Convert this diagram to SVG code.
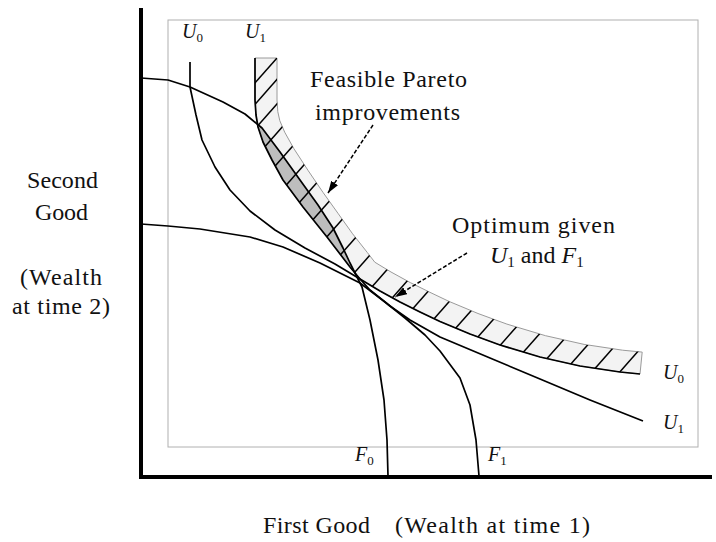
<svg xmlns="http://www.w3.org/2000/svg" width="716" height="542" viewBox="0 0 716 542">
<style>
.txt{font-family:"Liberation Serif","Times New Roman",serif;font-size:24px;fill:#111}
.lab{font-family:"Liberation Serif","Times New Roman",serif;font-size:20px;fill:#111}
.it{font-style:italic}
.curve{fill:none;stroke:#000;stroke-width:1.7;stroke-linejoin:round}
.hatch{stroke:#000;stroke-width:1.5}
.dash{fill:none;stroke:#000;stroke-width:1.5;stroke-dasharray:4 2}
</style>
<defs>
<marker id="ah" viewBox="0 0 12 8" refX="12" refY="4" markerWidth="12" markerHeight="8" markerUnits="userSpaceOnUse" orient="auto">
<path d="M0,0 L12,4 L0,8 Z" fill="#000"/>
</marker>
<path id="bandshape" d="M255,58 L255,100 L256,115 L258,127 L263,142 L272,160 L283,180 L303,207 L327,237 L350,267 L360,279 L380,291 L400,302 L420,312 L440,321.5 L470,334 L500,345 L540,357 L580,366 L620,372 L640,374 L642.2,352.1 L622.6,350.2 L584.1,344.4 L545.5,335.7 L506.9,324.1 L478,313.5 L449,301.4 L429.7,292.2 L410.3,282.6 L391,272 L374.8,262.2 L367.4,252.6 L352.6,233.8 L337.9,213.2 L323,192.4 L308.3,170.8 L293.9,148.7 L284.7,132.2 L279.8,120.7 L277.8,111.7 L277,100 L277,58 Z"/>
<clipPath id="bandclip">
<use href="#bandshape"/>
</clipPath>
</defs>
<rect width="716" height="542" fill="#fff"/>
<g id="frame">
<rect x="168" y="20" width="530" height="427" fill="none" stroke="#b0b0b0" stroke-width="1"/>
</g>
<g id="band">
<use href="#bandshape" fill="#f3f3f3" stroke="#9a9a9a" stroke-width="1"/>
<path id="pareto" d="M258,124 L262,128 L280,152 L300,180 L318,205 L333,228 L343,248 L351,268 L327,237 L303,207 L283,180 L272,160 L263,142 L258,127 Z" fill="#bdbdbd"/>
<g clip-path="url(#bandclip)" class="hatch">
<line x1="249.7" y1="89" x2="284.7" y2="49.3"/>
<line x1="250" y1="110.1" x2="285" y2="70.3"/>
<line x1="253" y1="131.1" x2="288" y2="91.4"/>
<line x1="261.3" y1="150.8" x2="296.3" y2="111.1"/>
<line x1="272" y1="169.6" x2="307" y2="129.9"/>
<line x1="283.9" y1="187.8" x2="318.9" y2="148.1"/>
<line x1="296.3" y1="206" x2="331.3" y2="166.3"/>
<line x1="309.1" y1="224.1" x2="344.1" y2="184.4"/>
<line x1="322.1" y1="242.3" x2="357.1" y2="202.6"/>
<line x1="335.5" y1="260.4" x2="370.5" y2="220.7"/>
<line x1="349.5" y1="278.3" x2="384.5" y2="238.6"/>
<line x1="367" y1="292.4" x2="402" y2="252.7"/>
<line x1="387.1" y1="303.8" x2="422.1" y2="264.1"/>
<line x1="407.7" y1="314.5" x2="442.7" y2="274.8"/>
<line x1="428.8" y1="324.7" x2="463.8" y2="285"/>
<line x1="450.5" y1="334.1" x2="485.5" y2="294.4"/>
<line x1="472.6" y1="342.9" x2="507.6" y2="303.2"/>
<line x1="495.1" y1="351.1" x2="530.1" y2="311.4"/>
<line x1="518.2" y1="358.1" x2="553.2" y2="318.4"/>
<line x1="541.7" y1="364.6" x2="576.7" y2="324.9"/>
<line x1="565.6" y1="369.9" x2="600.6" y2="330.2"/>
<line x1="589.9" y1="374.3" x2="624.9" y2="334.6"/>
<line x1="614.5" y1="378" x2="649.5" y2="338.3"/>
</g>
</g>
<g id="connectors">
<path id="F0" class="curve" d="M141,78 L168,80 L190,87 L223,102 L245,114 L262,128 L280,152 L300,180 L318,205 L333,228 L343,248 L350,263 L362,287 L370,320 L378,360 L384,400 L387,440 L388,476"/>
<path id="F1" class="curve" d="M141,224 L168,226 L200,229 L250,237 L283,247 L320,263 L360,283 L385,302 L405,318 L425,335 L440,351 L460,378 L470,405 L476,440 L479,476"/>
<path id="U0" class="curve" d="M190,62 L190,87 L196,115 L202,140 L215,167 L230,190 L250,211 L275,230 L305,248 L335,264 L360,279 L380,291 L400,302 L420,312 L440,321.5 L470,334 L500,345 L540,357 L580,366 L620,372 L640,374"/>
<path id="U1" class="curve" d="M255,58 L255,100 L256,115 L258,127 L263,142 L272,160 L283,180 L303,207 L327,237 L350,267 L360,279 L370,290 L390,306 L410,320 L440,337 L490,358 L540,379 L590,400 L643,421"/>
<path class="dash" d="M373,125 L328,193" marker-end="url(#ah)"/>
<path class="dash" d="M467,253 L395,297" marker-end="url(#ah)"/>
</g>
<g id="axes">
<line x1="141" y1="8" x2="141" y2="479" stroke="#000" stroke-width="4"/>
<line x1="139" y1="477" x2="712" y2="477" stroke="#000" stroke-width="4"/>
</g>
<g id="labels">
<text class="lab" x="182" y="38"><tspan class="it">U</tspan><tspan font-size="13" dy="4">0</tspan></text>
<text class="lab" x="245" y="38"><tspan class="it">U</tspan><tspan font-size="13" dy="4">1</tspan></text>
<text class="lab" x="663" y="379"><tspan class="it">U</tspan><tspan font-size="13" dy="4">0</tspan></text>
<text class="lab" x="663" y="429"><tspan class="it">U</tspan><tspan font-size="13" dy="4">1</tspan></text>
<text class="lab" x="355" y="461"><tspan class="it">F</tspan><tspan font-size="13" dy="4">0</tspan></text>
<text class="lab" x="488" y="461"><tspan class="it">F</tspan><tspan font-size="13" dy="4">1</tspan></text>
</g>
<g id="texts">
<text class="txt" x="310" y="87" textLength="157" lengthAdjust="spacing">Feasible Pareto</text>
<text class="txt" x="315" y="120" textLength="145" lengthAdjust="spacing">improvements</text>
<text class="txt" x="452" y="233" textLength="163" lengthAdjust="spacing">Optimum given</text>
<text class="txt" x="490" y="263"><tspan class="it">U</tspan><tspan font-size="15" dy="4">1</tspan><tspan dy="-4"> and </tspan><tspan class="it">F</tspan><tspan font-size="15" dy="4">1</tspan></text>
<text class="txt" x="27" y="188" textLength="71" lengthAdjust="spacing">Second</text>
<text class="txt" x="35" y="220" textLength="53" lengthAdjust="spacing">Good</text>
<text class="txt" x="20" y="285" textLength="82" lengthAdjust="spacing">(Wealth</text>
<text class="txt" x="12" y="314" textLength="98" lengthAdjust="spacing">at time 2)</text>
<text class="txt" x="263" y="533" textLength="107" lengthAdjust="spacing">First Good</text>
<text class="txt" x="395" y="533" textLength="195" lengthAdjust="spacing">(Wealth at time 1)</text>
</g>
</svg>
